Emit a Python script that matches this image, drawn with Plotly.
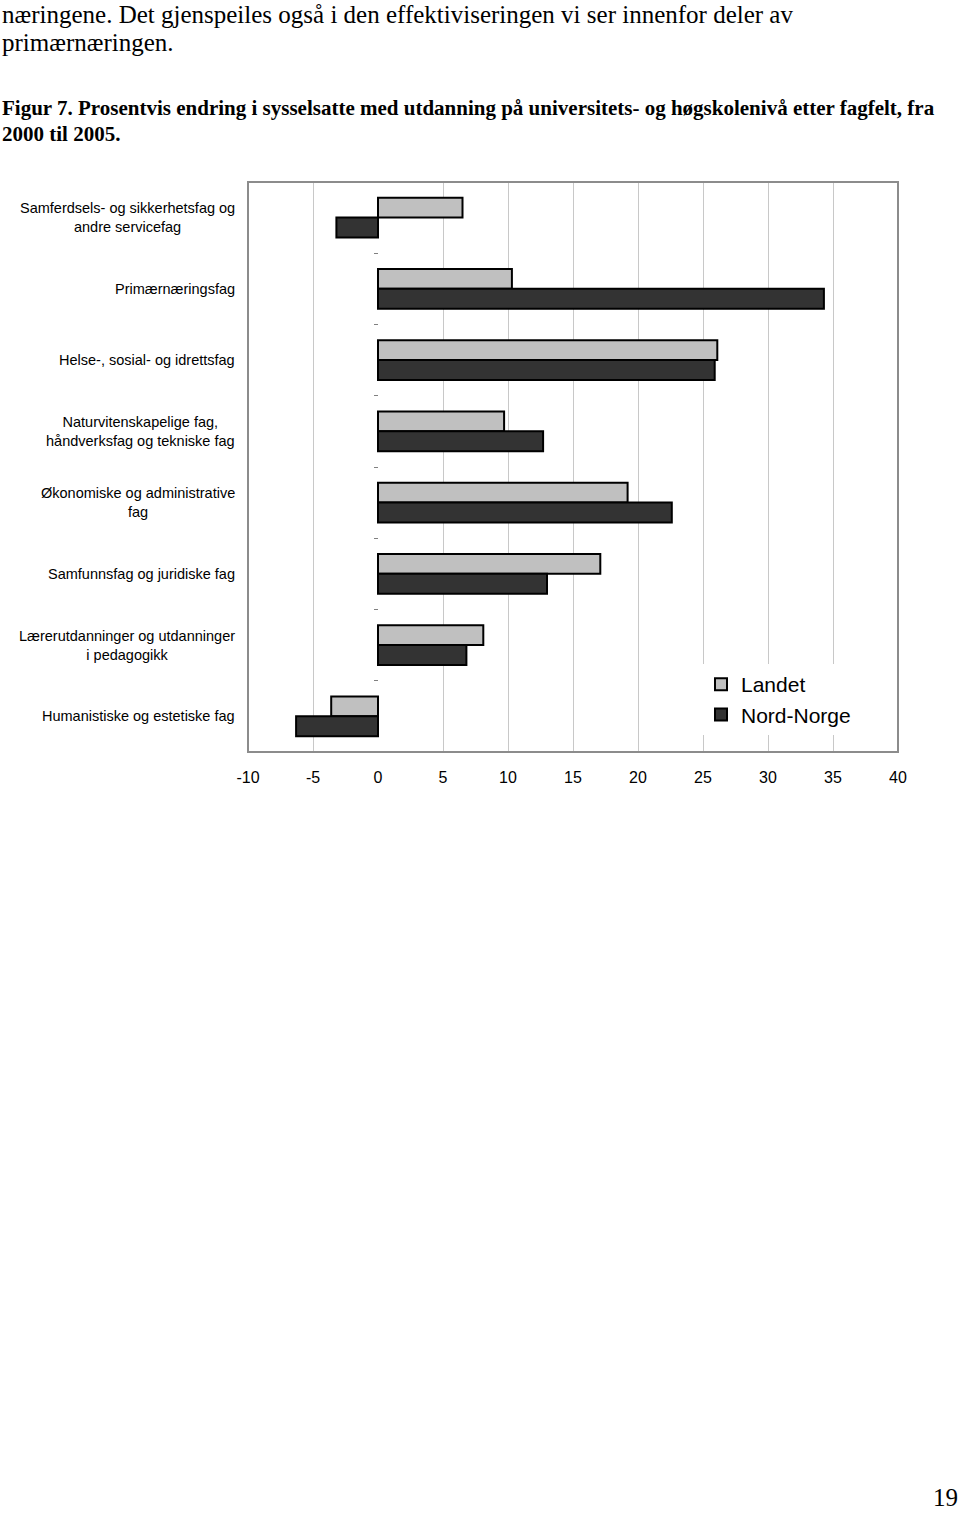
import plotly.graph_objects as go

categories = [
    "Samferdsels- og sikkerhetsfag og<br>andre servicefag",
    "Primærnæringsfag",
    "Helse-, sosial- og idrettsfag",
    "Naturvitenskapelige fag,<br>håndverksfag og tekniske fag",
    "Økonomiske og administrative<br>fag",
    "Samfunnsfag og juridiske fag",
    "Lærerutdanninger og utdanninger<br>i pedagogikk",
    "Humanistiske og estetiske fag",
]
landet = [6.5, 10.3, 26.1, 9.7, 19.2, 17.1, 8.1, -3.6]
nord_norge = [-3.2, 34.3, 25.9, 12.7, 22.6, 13.0, 6.8, -6.3]
tick_vals = [-10, -5, 0, 5, 10, 15, 20, 25, 30, 35, 40]
tick_text = ["-10", "-5", "0", "5", "10", "15", "20", "25", "30", "35", "40"]

W, H = 960, 1521
serif = "Liberation Serif"
sans = "Liberation Sans"

fig = go.Figure()
fig.add_trace(go.Bar(y=categories, x=landet, orientation="h", name="Landet",
                     legendgroup="a",
                     marker=dict(color="#c0c0c0", line=dict(color="black", width=2))))
fig.add_trace(go.Bar(y=categories, x=nord_norge, orientation="h", name="Nord-Norge",
                     legendgroup="b",
                     marker=dict(color="#333333", line=dict(color="black", width=2))))

x0, x1 = 248 / W, 898 / W
y0, y1 = 1 - 752 / H, 1 - 182 / H

fig.update_layout(
    width=W, height=H,
    margin=dict(l=0, r=0, t=0, b=0, autoexpand=False),
    paper_bgcolor="white", plot_bgcolor="white",
    barmode="group", bargap=0.44, bargroupgap=0,
    showlegend=True,
    legend=dict(x=701 / W, y=1 - 664 / H, xanchor="left", yanchor="top",
                bgcolor="white", traceorder="normal",
                font=dict(family=sans, size=21, color="black"),
                itemwidth=30, tracegroupgap=8),
    xaxis=dict(domain=[x0, x1], range=[-10, 40], tickvals=tick_vals, ticktext=tick_text,
               showgrid=True, gridcolor="#c8c8c8", gridwidth=1, zeroline=True,
               zerolinecolor="white", zerolinewidth=2, showline=False,
               ticks="", ticklabelstandoff=14,
               tickfont=dict(family=sans, size=16, color="black"),
               fixedrange=True),
    yaxis=dict(domain=[y0, y1], autorange="reversed", anchor="free",
               position=378 / W, showline=False, showgrid=False,
               ticks="outside", ticklen=4, tickcolor="#808080",
               tickson="boundaries", showticklabels=False, fixedrange=True),
)

# plot frame
fig.add_shape(type="rect", xref="x domain", yref="y domain", x0=0, x1=1, y0=0, y1=1,
              line=dict(color="#8c8c8c", width=2), layer="above")

# category labels, centred lines
for c in categories:
    fig.add_annotation(x=237 / W, xref="paper", y=c, yref="y", text=c,
                       showarrow=False, xanchor="right", align="center",
                       font=dict(family=sans, size=14.5, color="black"))

# surrounding document text
def txt(s, y, size=25, bold=False, x=0, xanchor="left"):
    fig.add_annotation(x=x, y=1 - y / H, xref="paper", yref="paper",
                       text=f"<b>{s}</b>" if bold else s, showarrow=False,
                       xanchor=xanchor, yanchor="middle", align="left",
                       font=dict(family=serif, size=size, color="black"))

txt("næringene. Det gjenspeiles også i den effektiviseringen vi ser innenfor deler av", 14)
txt("primærnæringen.", 43)
txt("Figur 7. Prosentvis endring i sysselsatte med utdanning på universitets- og høgskolenivå etter fagfelt, fra", 108, size=21, bold=True)
txt("2000 til 2005.", 134, size=21, bold=True)
txt("19", 1497, size=25, x=960 / W, xanchor="right")

fig.write_html("out.html", config={"displayModeBar": False},
               post_script="document.body.style.margin='0';")
